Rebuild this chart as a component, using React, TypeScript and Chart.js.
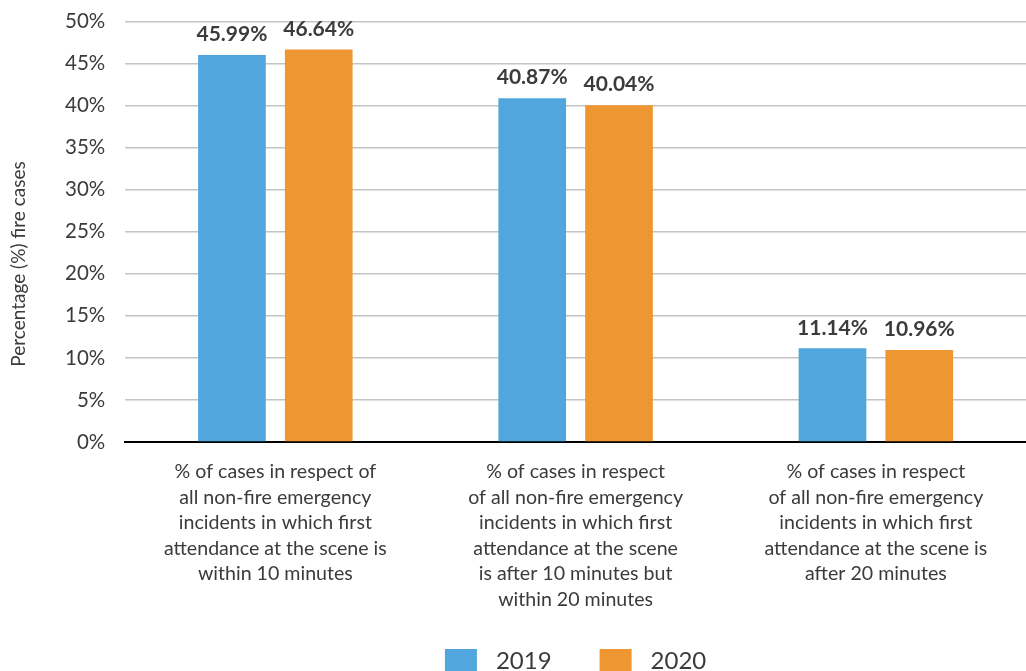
import React, { useEffect, useRef } from "react";
import { Chart, registerables } from "chart.js";

Chart.register(...registerables);

const categories: string[][] = [
  ["% of cases in respect of", "all non-fire emergency", "incidents in which first", "attendance at the scene is", "within 10 minutes"],
  ["% of cases in respect", "of all non-fire emergency", "incidents in which first", "attendance at the scene", "is after 10 minutes but", "within 20 minutes"],
  ["% of cases in respect", "of all non-fire emergency", "incidents in which first", "attendance at the scene is", "after 20 minutes"],
];
const values2019 = [45.99, 40.87, 11.14];
const values2020 = [46.64, 40.04, 10.96];
const seriesNames = ["2019", "2020"];
const seriesColors = ["#51A7DD", "#EE9632"];
const yTitle = "Percentage (%) fire cases";
const yTicksMax = 50;
const yStep = 5;

const TEXT = "#3b3b3b";
const FONT = "Lato, 'Open Sans', sans-serif";
const SHIFT = 11; // canvas is shifted up by this many pixels

const valueLabels = {
  id: "valueLabels",
  afterDatasetsDraw(chart: any) {
    const ctx = chart.ctx;
    ctx.save();
    ctx.fillStyle = TEXT;
    ctx.font = `bold 21px ${FONT}`;
    ctx.textAlign = "center";
    ctx.textBaseline = "bottom";
    chart.data.datasets.forEach((ds: any, i: number) => {
      const meta = chart.getDatasetMeta(i);
      meta.data.forEach((bar: any, j: number) => {
        ctx.fillText(ds.data[j].toFixed(2) + "%", bar.x, bar.y - 10);
      });
    });
    ctx.restore();
  },
};

const yTitlePlugin = {
  id: "yTitlePlugin",
  afterDraw(chart: any) {
    const ctx = chart.ctx;
    ctx.save();
    ctx.fillStyle = TEXT;
    ctx.font = `19px ${FONT}`;
    ctx.textAlign = "center";
    ctx.textBaseline = "middle";
    ctx.translate(19, 264 + SHIFT);
    ctx.rotate(-Math.PI / 2);
    ctx.fillText(yTitle, 0, 0);
    ctx.restore();
  },
};

const legendPlugin = {
  id: "customLegend",
  afterDraw(chart: any) {
    const ctx = chart.ctx;
    const area = chart.chartArea;
    const boxW = 32;
    const boxH = 22;
    const gapText = 19;
    const gapItem = 48;
    ctx.save();
    ctx.font = `24px ${FONT}`;
    const widths = seriesNames.map((n) => ctx.measureText(n).width);
    const total = widths.reduce((s, w) => s + boxW + gapText + w, 0) + gapItem * (seriesNames.length - 1);
    let x = (area.left + area.right) / 2 - total / 2;
    const boxTop = 649 + SHIFT;
    seriesNames.forEach((n, i) => {
      ctx.fillStyle = seriesColors[i];
      ctx.fillRect(x, boxTop, boxW, boxH);
      ctx.fillStyle = TEXT;
      ctx.textAlign = "left";
      ctx.textBaseline = "middle";
      ctx.fillText(n, x + boxW + gapText, boxTop + boxH / 2 + 1);
      x += boxW + gapText + widths[i] + gapItem;
    });
    ctx.restore();
  },
};

export default function App() {
  const ref = useRef<HTMLCanvasElement>(null);
  useEffect(() => {
    const chart = new Chart(ref.current!, {
      type: "bar",
      data: {
        labels: categories,
        datasets: [
          { label: seriesNames[0], data: values2019, backgroundColor: seriesColors[0] },
          { label: seriesNames[1], data: values2020, backgroundColor: seriesColors[1] },
        ],
      },
      options: {
        animation: false,
        responsive: false,
        maintainAspectRatio: false,
        layout: { padding: { top: 0, right: 0, left: 45, bottom: 50 } },
        datasets: { bar: { categoryPercentage: 0.578, barPercentage: 0.78 } },
        plugins: {
          tooltip: { enabled: false },
          legend: { display: false },
        },
        scales: {
          x: {
            grid: { display: false },
            border: { display: true, color: "#000000", width: 2 },
            ticks: {
              color: TEXT,
              font: { family: FONT, size: 19.6, lineHeight: 1.3 },
              maxRotation: 0,
              autoSkip: false,
              padding: 9,
            },
          },
          y: {
            min: 0,
            max: yTicksMax,
            grid: { color: "#c4c4c4", lineWidth: 1.5, drawTicks: false },
            border: { display: false },
            ticks: {
              stepSize: yStep,
              color: TEXT,
              font: { family: FONT, size: 20.5 },
              padding: 20,
              callback: (v: any) => v + "%",
            },
          },
        },
      },
      plugins: [valueLabels, yTitlePlugin, legendPlugin],
    });
    return () => chart.destroy();
  }, []);
  return (
    <div style={{ position: "fixed", left: 0, top: 0, width: 1026, height: 671, background: "#fff", overflow: "hidden" }}>
      <canvas ref={ref} width={1026} height={671 + SHIFT} style={{ display: "block", marginTop: -SHIFT }} />
    </div>
  );
}
